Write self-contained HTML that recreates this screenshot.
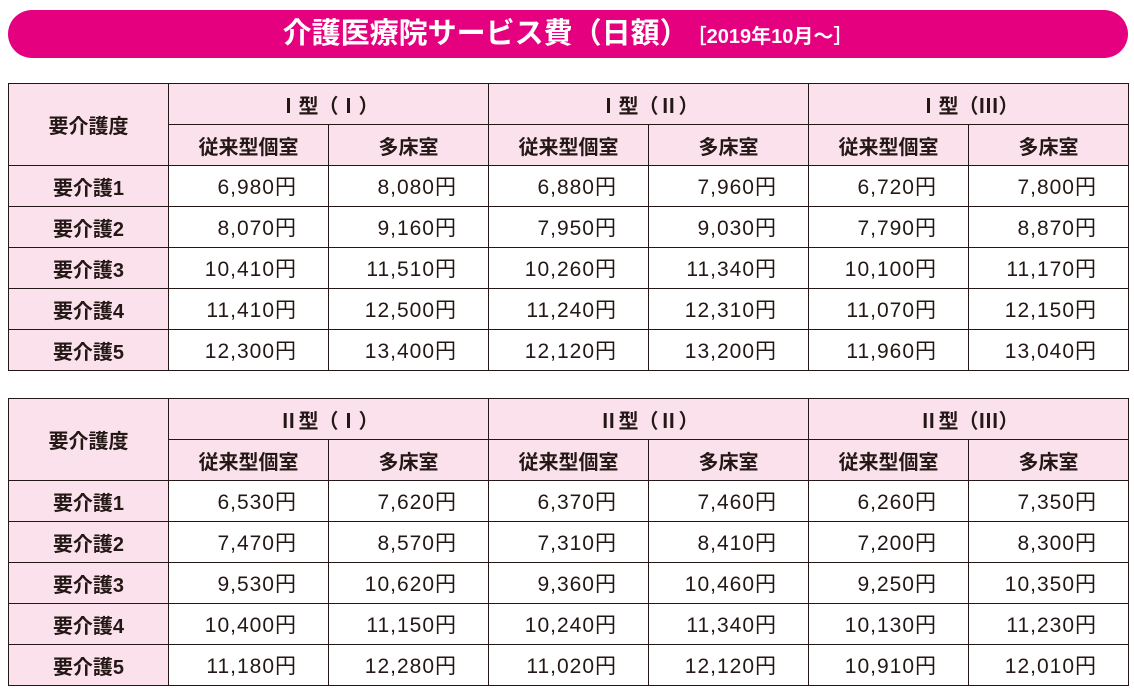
<!DOCTYPE html>
<html><head><meta charset="utf-8"><style>
body{margin:0;width:1134px;height:695px;background:#fff;position:relative;overflow:hidden;font-family:"Liberation Sans","Noto Sans CJK JP",sans-serif;color:#231815}
.title{position:absolute;left:8px;top:10px;width:1120px;height:48px;background:#e4007f;border-radius:24px;color:#fff;text-align:center;line-height:48px;font-size:29px;font-weight:bold}
.title small{font-size:20px;margin-left:8px}
table{position:absolute;left:8px;border-collapse:collapse;table-layout:fixed;width:1120px}
td{border:1px solid #231815;height:40px;padding:0;font-size:21px;text-align:center;letter-spacing:1px}
td.h{background:#fbe1ec;font-weight:bold;font-size:20px;letter-spacing:0}
td.n{text-align:right;padding-right:31px}
</style></head><body>
<div class="title">介護医療院サービス費（日額）<small>［2019年10月～］</small></div>
<table style="top:83px">
<colgroup><col style="width:160px"><col style="width:160px"><col style="width:160px"><col style="width:160px"><col style="width:160px"><col style="width:160px"><col style="width:160px"></colgroup>
<tr><td class="h" rowspan="2">要介護度</td><td class="h" colspan="2">Ⅰ型（Ⅰ）</td><td class="h" colspan="2">Ⅰ型（Ⅱ）</td><td class="h" colspan="2">Ⅰ型（Ⅲ）</td></tr>
<tr><td class="h">従来型個室</td><td class="h">多床室</td><td class="h">従来型個室</td><td class="h">多床室</td><td class="h">従来型個室</td><td class="h">多床室</td></tr>
<tr><td class="h">要介護1</td><td class="n">6,980円</td><td class="n">8,080円</td><td class="n">6,880円</td><td class="n">7,960円</td><td class="n">6,720円</td><td class="n">7,800円</td></tr>
<tr><td class="h">要介護2</td><td class="n">8,070円</td><td class="n">9,160円</td><td class="n">7,950円</td><td class="n">9,030円</td><td class="n">7,790円</td><td class="n">8,870円</td></tr>
<tr><td class="h">要介護3</td><td class="n">10,410円</td><td class="n">11,510円</td><td class="n">10,260円</td><td class="n">11,340円</td><td class="n">10,100円</td><td class="n">11,170円</td></tr>
<tr><td class="h">要介護4</td><td class="n">11,410円</td><td class="n">12,500円</td><td class="n">11,240円</td><td class="n">12,310円</td><td class="n">11,070円</td><td class="n">12,150円</td></tr>
<tr><td class="h">要介護5</td><td class="n">12,300円</td><td class="n">13,400円</td><td class="n">12,120円</td><td class="n">13,200円</td><td class="n">11,960円</td><td class="n">13,040円</td></tr>
</table>
<table style="top:398px">
<colgroup><col style="width:160px"><col style="width:160px"><col style="width:160px"><col style="width:160px"><col style="width:160px"><col style="width:160px"><col style="width:160px"></colgroup>
<tr><td class="h" rowspan="2">要介護度</td><td class="h" colspan="2">Ⅱ型（Ⅰ）</td><td class="h" colspan="2">Ⅱ型（Ⅱ）</td><td class="h" colspan="2">Ⅱ型（Ⅲ）</td></tr>
<tr><td class="h">従来型個室</td><td class="h">多床室</td><td class="h">従来型個室</td><td class="h">多床室</td><td class="h">従来型個室</td><td class="h">多床室</td></tr>
<tr><td class="h">要介護1</td><td class="n">6,530円</td><td class="n">7,620円</td><td class="n">6,370円</td><td class="n">7,460円</td><td class="n">6,260円</td><td class="n">7,350円</td></tr>
<tr><td class="h">要介護2</td><td class="n">7,470円</td><td class="n">8,570円</td><td class="n">7,310円</td><td class="n">8,410円</td><td class="n">7,200円</td><td class="n">8,300円</td></tr>
<tr><td class="h">要介護3</td><td class="n">9,530円</td><td class="n">10,620円</td><td class="n">9,360円</td><td class="n">10,460円</td><td class="n">9,250円</td><td class="n">10,350円</td></tr>
<tr><td class="h">要介護4</td><td class="n">10,400円</td><td class="n">11,150円</td><td class="n">10,240円</td><td class="n">11,340円</td><td class="n">10,130円</td><td class="n">11,230円</td></tr>
<tr><td class="h">要介護5</td><td class="n">11,180円</td><td class="n">12,280円</td><td class="n">11,020円</td><td class="n">12,120円</td><td class="n">10,910円</td><td class="n">12,010円</td></tr>
</table>
</body></html>
